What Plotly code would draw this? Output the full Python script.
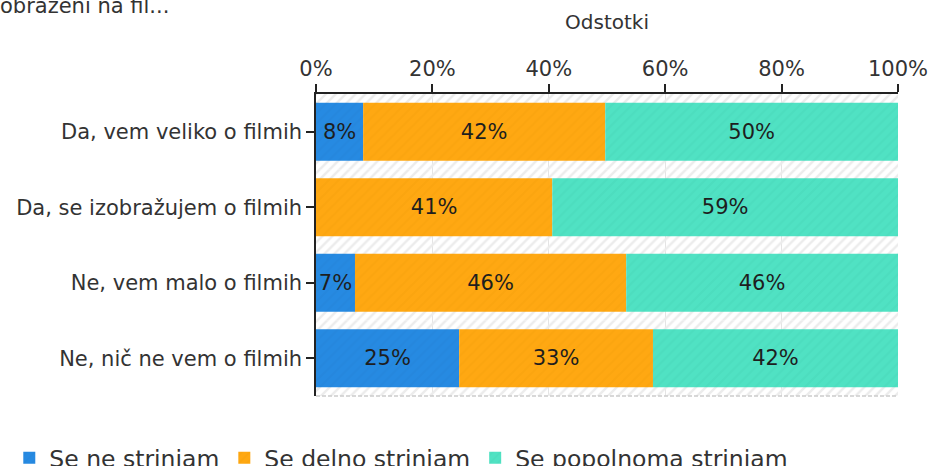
import plotly.graph_objects as go

categories = ["Da, vem veliko o filmih", "Da, se izobražujem o filmih",
              "Ne, vem malo o filmih", "Ne, nič ne vem o filmih"]
series_names = ["Se ne strinjam", "Se delno strinjam", "Se popolnoma strinjam"]
ne_strinjam = [8.1, 0.0, 6.7, 24.6]
delno_strinjam = [41.6, 40.6, 46.6, 33.3]
popolnoma_strinjam = [50.3, 59.4, 46.7, 42.1]
ne_strinjam_labels = ["8%", "", "7%", "25%"]
delno_strinjam_labels = ["42%", "41%", "46%", "33%"]
popolnoma_strinjam_labels = ["50%", "59%", "46%", "42%"]
tick_values = [0, 20, 40, 60, 80, 100]
tick_labels = ["0%", "20%", "40%", "60%", "80%", "100%"]
colors = ["#268ae2", "#ffa812", "#50e2c3"]
pattern_colors = ["#1f6fb8", "#d98c00", "#35b89b"]

FONT = "DejaVu Sans, Verdana, sans-serif"
FS = 21

fig = go.Figure()

# hatched plot background
fig.add_trace(go.Bar(
    y=categories, x=[100] * len(categories), base=[0] * len(categories),
    orientation="h", width=1.0, showlegend=False, hoverinfo="skip",
    marker=dict(color="rgba(0,0,0,0)", line=dict(width=0),
                pattern=dict(shape="/", fgcolor="#ececec", size=7, solidity=0.35,
                             fillmode="replace")),
))

series = [ne_strinjam, delno_strinjam, popolnoma_strinjam]
labels = [ne_strinjam_labels, delno_strinjam_labels, popolnoma_strinjam_labels]
base = [0.0] * len(categories)
for name, vals, labs, col, pcol in zip(series_names, series, labels, colors, pattern_colors):
    fig.add_trace(go.Bar(
        name=name, y=categories, x=vals, base=list(base), orientation="h",
        width=0.77, text=labs, textposition="inside", insidetextanchor="middle",
        textangle=0, constraintext="none",
        insidetextfont=dict(family=FONT, size=FS, color="#1e1e1e"),
        marker=dict(color=col, line=dict(width=0),
                    pattern=dict(shape="/", fgcolor=pcol, fgopacity=0.12, size=7,
                                 solidity=0.3, fillmode="overlay")),
    ))
    base = [b + v for b, v in zip(base, vals)]

fig.update_layout(
    width=931, height=466,
    barmode="overlay",
    paper_bgcolor="white", plot_bgcolor="white",
    margin=dict(l=316, r=33, t=94, b=70, autoexpand=False),
    font=dict(family=FONT, size=FS, color="#333333"),
    uniformtext=dict(minsize=FS, mode="show"),
    title=dict(text="obraženi na fil...", x=0, xref="container", xanchor="left",
               y=0.988, yref="container", yanchor="middle", pad=dict(l=0, r=0, t=0, b=0),
               font=dict(family=FONT, size=FS, color="#333333")),
    xaxis=dict(side="top", range=[0, 100], tickvals=tick_values, ticktext=tick_labels,
               showline=True, linecolor="#222222", linewidth=1.5,
               ticks="outside", ticklen=8, tickcolor="#222222", tickwidth=1.5,
               showgrid=True, gridcolor="#e4e4e4", gridwidth=1, zeroline=False,
               title=dict(text="Odstotki", standoff=22, font=dict(size=20)),
               tickfont=dict(size=FS), fixedrange=True, automargin=False),
    yaxis=dict(showline=True, linecolor="#222222", linewidth=1.5,
               ticks="outside", ticklen=8, tickcolor="#222222", tickwidth=1.5,
               layer="below traces", tickfont=dict(size=FS), showgrid=False,
               range=[3.5, -0.5], automargin=False),
    legend=dict(orientation="h", xref="paper", yref="paper", x=-0.527, y=-0.205,
                xanchor="left", yanchor="middle", font=dict(size=23.5),
                itemwidth=30, traceorder="normal"),
    shapes=[dict(type="line", xref="paper", yref="paper", x0=0, x1=1, y0=0, y1=0,
                 line=dict(color="#cccccc", width=1.5, dash="4px,2px"))],
)

fig.write_html("out.html", config={"displayModeBar": False},
               post_script="document.body.style.margin='0';")
